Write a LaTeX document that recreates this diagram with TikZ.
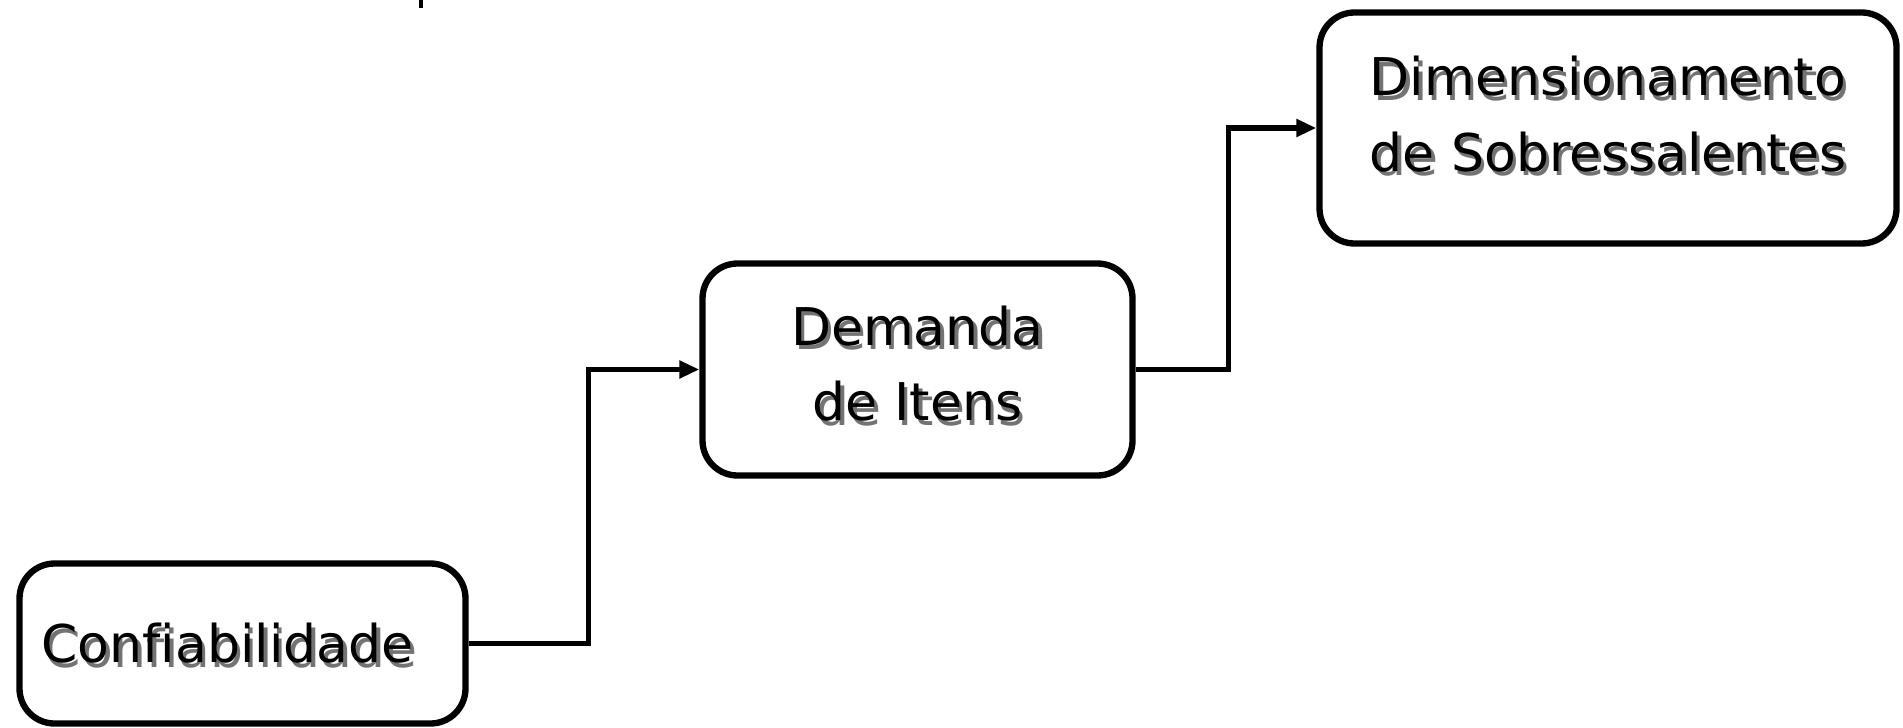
\documentclass[tikz,border=0pt]{standalone}
\usepackage{fontspec}
\setmainfont{DejaVu Sans}[Ligatures=NoCommon]
\usetikzlibrary{arrows.meta,positioning}

\begin{document}
\begin{tikzpicture}[
  box/.style={draw,line width=1.8pt,rounded corners=0.35cm},
  lbl/.style={align=center,font=\fontsize{14.8}{21.5}\selectfont},
  sh/.style={lbl,text=black!55,xshift=0.35mm,yshift=-0.45mm},
  conn/.style={line width=1.6pt,-{Triangle[length=0.2cm,width=0.17cm]}},
]
  \useasboundingbox (0,0) rectangle (19.03,7.27);

  % the three boxes
  \node[box,minimum width=4.46cm,minimum height=1.6cm] (conf) at (2.425,0.835) {};
  \node[box,minimum width=4.30cm,minimum height=2.12cm] (dem) at (9.175,3.575) {};
  \node[box,minimum width=5.77cm,minimum height=2.31cm] (dim) at (16.08,5.99) {};

  % labels, each with a grey shadow under it
  \node[sh,xshift=-1.5mm] (confsh) at (conf) {Confiabilidade};
  \node[lbl,xshift=-1.5mm] (conftxt) at (conf) {Confiabilidade};
  \node[sh,yshift=0.6mm] (demsh) at (dem) {Demanda\\de Itens};
  \node[lbl,yshift=0.6mm] (demtxt) at (dem) {Demanda\\de Itens};
  \node[sh,yshift=1.4mm] (dimsh) at (dim) {Dimensionamento\\de Sobressalentes};
  \node[lbl,yshift=1.4mm] (dimtxt) at (dim) {Dimensionamento\\de Sobressalentes};

  % step connectors
  \draw[conn] (conf.east) -- ++(1.2,0) |- (dem.west);
  \draw[conn] (dem.east) -- ++(0.93,0) |- (dim.west);

  % small tick at the top edge
  \coordinate (tick) at (4.21,7.19);
  \draw[line width=1.2pt] (tick) -- ++(0,0.08);
\end{tikzpicture}
\end{document}
